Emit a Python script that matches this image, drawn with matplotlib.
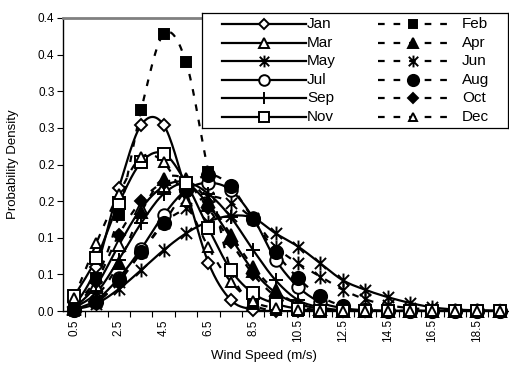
import numpy as np
import matplotlib
matplotlib.use("Agg")
import matplotlib.pyplot as plt
from matplotlib.path import Path

plt.rcParams['font.family'] = ['Liberation Sans', 'DejaVu Sans']

# wind speed bins (m/s)
speeds = ["0.5", "1.5", "2.5", "3.5", "4.5", "5.5", "6.5", "7.5", "8.5", "9.5",
          "10.5", "11.5", "12.5", "13.5", "14.5", "15.5", "16.5", "17.5", "18.5", "19.5"]

# probability density, one list per month
jan = [0.005, 0.060, 0.168, 0.254, 0.254, 0.165, 0.066, 0.015, 0.002, 0, 0, 0, 0, 0, 0, 0, 0, 0, 0, 0]
feb = [0.010, 0.045, 0.131, 0.275, 0.378, 0.340, 0.190, 0.056, 0.010, 0.001, 0, 0, 0, 0, 0, 0, 0, 0, 0, 0]
mar = [0.004, 0.035, 0.090, 0.140, 0.170, 0.175, 0.145, 0.100, 0.055, 0.025, 0.010, 0.003, 0, 0, 0, 0, 0, 0, 0, 0]
apr = [0.003, 0.020, 0.065, 0.135, 0.180, 0.180, 0.150, 0.104, 0.060, 0.028, 0.010, 0.003, 0, 0, 0, 0, 0, 0, 0, 0]
may = [0.002, 0.010, 0.030, 0.056, 0.083, 0.106, 0.122, 0.130, 0.127, 0.106, 0.088, 0.065, 0.042, 0.029, 0.019, 0.011, 0.005, 0.002, 0.001, 0]
jun = [0.002, 0.012, 0.040, 0.080, 0.120, 0.140, 0.156, 0.148, 0.125, 0.088, 0.065, 0.047, 0.029, 0.016, 0.008, 0.004, 0.002, 0, 0, 0]
jul = [0.002, 0.015, 0.045, 0.085, 0.131, 0.165, 0.175, 0.165, 0.127, 0.070, 0.033, 0.012, 0.004, 0.001, 0, 0, 0, 0, 0, 0]
aug = [0.002, 0.012, 0.042, 0.080, 0.120, 0.165, 0.186, 0.170, 0.125, 0.080, 0.045, 0.020, 0.007, 0.002, 0, 0, 0, 0, 0, 0]
sep = [0.004, 0.025, 0.070, 0.120, 0.160, 0.175, 0.160, 0.128, 0.083, 0.042, 0.015, 0.005, 0.001, 0, 0, 0, 0, 0, 0, 0]
oct_ = [0.006, 0.040, 0.104, 0.150, 0.175, 0.175, 0.140, 0.094, 0.050, 0.020, 0.006, 0.001, 0, 0, 0, 0, 0, 0, 0, 0]
nov = [0.020, 0.072, 0.147, 0.203, 0.215, 0.175, 0.113, 0.056, 0.024, 0.010, 0.003, 0, 0, 0, 0, 0, 0, 0, 0, 0]
dec = [0.018, 0.093, 0.160, 0.210, 0.203, 0.150, 0.087, 0.040, 0.013, 0.004, 0.001, 0, 0, 0, 0, 0, 0, 0, 0, 0]

months = ["Jan", "Feb", "Mar", "Apr", "May", "Jun", "Jul", "Aug", "Sep", "Oct", "Nov", "Dec"]
values = [jan, feb, mar, apr, may, jun, jul, aug, sep, oct_, nov, dec]

ytick_vals = [0.0, 0.05, 0.10, 0.15, 0.20, 0.25, 0.30, 0.35, 0.40]
ytick_labels = ["0.0", "0.1", "0.1", "0.2", "0.2", "0.3", "0.3", "0.4", "0.4"]

# excel style asterisk: X with a vertical bar
aster = Path([(0, -1), (0, 1), (-0.8, -0.8), (0.8, 0.8), (-0.8, 0.8), (0.8, -0.8)],
             [Path.MOVETO, Path.LINETO] * 3)

SOLID = '-'
DASH = (0, (3, 4))
styles = [
    dict(ls=SOLID, marker='D', ms=6.5, mfc='white'),   # Jan
    dict(ls=DASH, marker='s', ms=7.5, mfc='black'),    # Feb
    dict(ls=SOLID, marker='^', ms=9, mfc='white'),     # Mar
    dict(ls=DASH, marker='^', ms=8.5, mfc='black'),    # Apr
    dict(ls=SOLID, marker=aster, ms=10, mfc='none'),   # May
    dict(ls=DASH, marker=aster, ms=10, mfc='none'),    # Jun
    dict(ls=SOLID, marker='o', ms=9, mfc='white'),     # Jul
    dict(ls=DASH, marker='o', ms=9.5, mfc='black'),    # Aug
    dict(ls=SOLID, marker='+', ms=10, mfc='none'),     # Sep
    dict(ls=DASH, marker='D', ms=6.5, mfc='black'),    # Oct
    dict(ls=SOLID, marker='s', ms=8, mfc='white'),     # Nov
    dict(ls=DASH, marker='^', ms=7, mfc='white'),      # Dec
]


def smooth(x, y, n=16):
    # excel-like smoothed line (catmull-rom through the points)
    x = np.asarray(x, float)
    y = np.asarray(y, float)
    px = np.r_[x[0], x, x[-1]]
    py = np.r_[y[0], y, y[-1]]
    t = np.linspace(0, 1, n, endpoint=False)[:, None]
    xs, ys = [], []
    for i in range(len(x) - 1):
        seg = []
        for p in (px, py):
            p0, p1, p2, p3 = p[i], p[i + 1], p[i + 2], p[i + 3]
            seg.append(0.5 * (2 * p1 + (-p0 + p2) * t + (2 * p0 - 5 * p1 + 4 * p2 - p3) * t ** 2
                              + (-p0 + 3 * p1 - 3 * p2 + p3) * t ** 3))
        xs.append(seg[0].ravel())
        ys.append(seg[1].ravel())
    xs.append([x[-1]])
    ys.append([y[-1]])
    return np.concatenate(xs), np.concatenate(ys)


W, H = 509, 369
fig = plt.figure(figsize=(W / 100, H / 100), dpi=100)
x0, x1, ytop, ybot = 62.8, 510.8, 18, 311
ax = fig.add_axes([x0 / W, (H - ybot) / H, (x1 - x0) / W, (ybot - ytop) / H])

xpos = np.arange(len(speeds))
for vals, st in zip(values, styles):
    sx, sy = smooth(xpos, vals)
    ax.plot(sx, sy, color='black', lw=1.6, ls=st['ls'], zorder=2)
    ax.plot(xpos, vals, ls='none', marker=st['marker'], ms=st['ms'], mfc=st['mfc'],
            mec='black', mew=1.4, zorder=3, clip_on=False)

ax.set_xlim(-0.5, len(speeds) - 0.5)
ax.set_ylim(0, 0.4)
ax.set_yticks(ytick_vals)
ax.set_yticklabels(ytick_labels, fontsize=8.5)
ax.tick_params(axis='y', direction='out', length=4, width=0.8, pad=2)

ax.set_xticks(xpos[::2])
ax.set_xticklabels(speeds[::2], rotation=90, fontsize=8.5)
ax.set_xticks(xpos[:-1] + 0.5, minor=True)
ax.tick_params(axis='x', which='major', length=0, pad=6)
ax.tick_params(axis='x', which='minor', direction='out', length=4, width=0.8)

for s in ('left', 'bottom'):
    ax.spines[s].set_color('black')
    ax.spines[s].set_linewidth(1.0)
ax.spines['top'].set_color('#808080')
ax.spines['top'].set_linewidth(2)
ax.spines['right'].set_visible(False)

ax.set_xlabel("Wind Speed (m/s)", fontsize=9.5)
ax.xaxis.set_label_coords((264 - x0) / (x1 - x0), -(350 - ybot) / (ybot - ytop))
ax.set_ylabel("Probability Density", fontsize=9.5)
ax.yaxis.set_label_coords(-(x0 - 19) / (x1 - x0), 0.5)

# legend box drawn in image pixel coordinates
lx0, lx1, ly0, ly1 = 201.7, 508.3, 13.3, 128.3
lg = fig.add_axes([lx0 / W, (H - ly1) / H, (lx1 - lx0) / W, (ly1 - ly0) / H])
lg.set_xlim(lx0, lx1)
lg.set_ylim(ly1, ly0)
lg.set_xticks([])
lg.set_yticks([])
lg.set_facecolor('white')
for s in lg.spines.values():
    s.set_color('black')
    s.set_linewidth(0.9)
lg.set_zorder(5)

for i, (name, st) in enumerate(zip(months, styles)):
    row = i // 2
    yy = 24.5 + 18.45 * row
    if i % 2 == 0:
        xa, xb, xm, xt = 221.7, 306, 264, 307
    else:
        xa, xb, xm, xt = 378, 447, 413, 462
    lg.plot([xa, xb], [yy, yy], color='black', lw=1.6, ls=st['ls'])
    lg.plot([xm], [yy], ls='none', marker=st['marker'], ms=st['ms'] * 0.85, mfc=st['mfc'],
            mec='black', mew=1.4)
    lg.text(xt, yy, name, fontsize=11, va='center', ha='left')

fig.savefig("out.png", dpi=100)
